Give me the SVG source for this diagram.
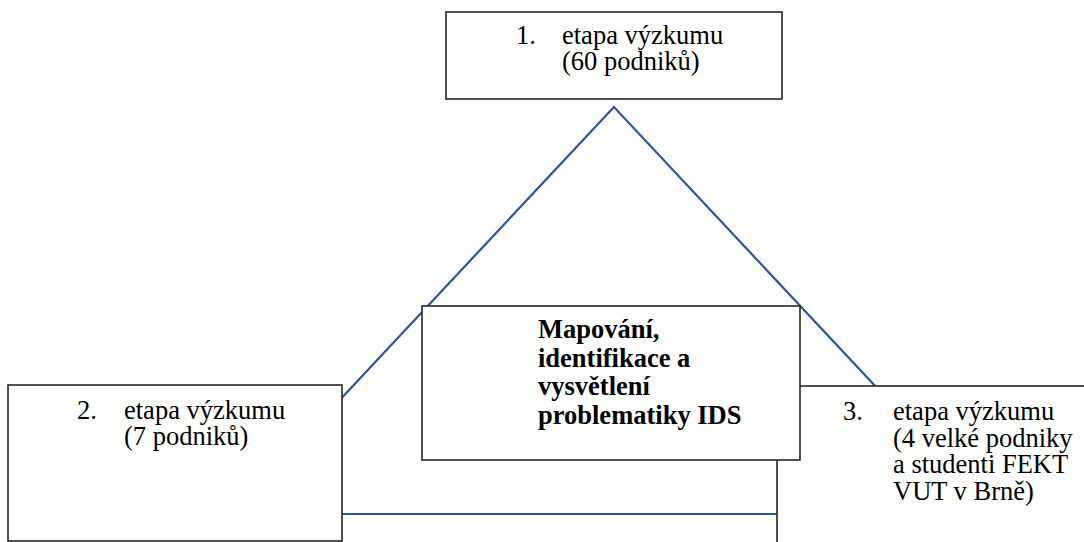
<svg xmlns="http://www.w3.org/2000/svg" width="1084" height="542" viewBox="0 0 1084 542">
<style>
.box{fill:#fff;stroke:#262626;stroke-width:1.6}
text{font-family:'Liberation Serif','Times New Roman','DejaVu Serif',serif;font-size:26.5px;fill:#000}
.b{font-weight:bold}
.tri{fill:none;stroke:#2F5597;stroke-width:2.2}
</style>
<rect width="1084" height="542" fill="#fff"/>
<g id="connectors">
<polygon class="tri" points="614,107 233,514 995,514"/>
</g>
<g id="node2" font-family="Liberation Serif, serif">
<rect class="box" x="8" y="385" width="334" height="156"/>
<text x="77" y="419">2.</text>
<text x="124" y="419">etapa výzkumu</text>
<text x="124" y="445">(7 podniků)</text>
</g>
<g id="node3" font-family="Liberation Serif, serif">
<rect class="box" x="777" y="386" width="330" height="180"/>
<text x="843" y="420">3.</text>
<text x="893" y="420">etapa výzkumu</text>
<text x="893" y="447">(4 velké podniky</text>
<text x="893" y="473">a studenti FEKT</text>
<text x="893" y="500">VUT v Brně)</text>
</g>
<g id="center" font-family="Liberation Serif, serif">
<rect class="box" x="422" y="306" width="378" height="154"/>
<text class="b" x="538" y="338">Mapování,</text>
<text class="b" x="538" y="367">identifikace a</text>
<text class="b" x="538" y="395">vysvětlení</text>
<text class="b" x="538" y="424">problematiky IDS</text>
</g>
<g id="node1" font-family="Liberation Serif, serif">
<rect class="box" x="446" y="12" width="336" height="87"/>
<text x="516" y="44">1.</text>
<text x="562" y="44">etapa výzkumu</text>
<text x="562" y="70">(60 podniků)</text>
</g>
</svg>
